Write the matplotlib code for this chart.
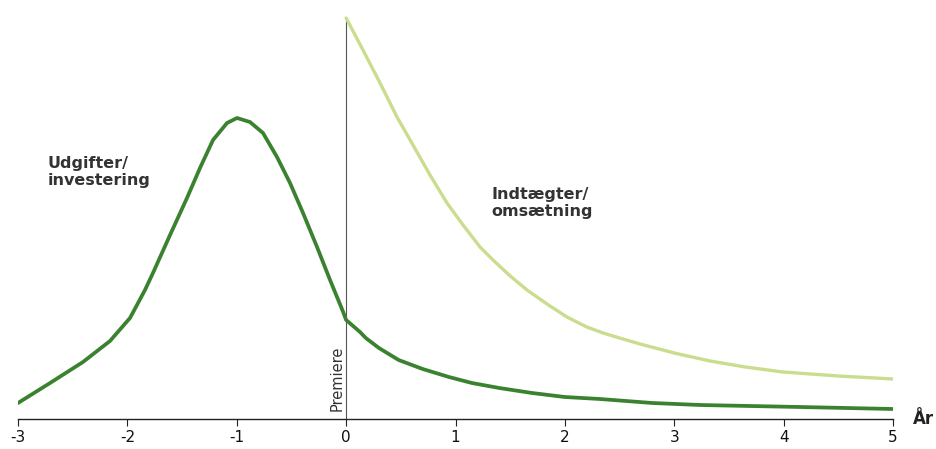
import matplotlib.pyplot as plt

# udgifter / investering (dark curve)
x_udg = [-3.0, -2.707, -2.406, -2.159, -1.976, -1.839, -1.766, -1.61, -1.455, -1.336,
         -1.217, -1.089, -0.998, -0.879, -0.76, -0.632, -0.513, -0.394, -0.266, -0.147,
         -0.027, 0.0, 0.127, 0.18, 0.3, 0.48, 0.7, 0.94, 1.15, 1.4, 1.7, 2.0, 2.32,
         2.8, 3.235, 4.15, 5.0]
y_udg = [16, 36, 57, 78, 101, 129, 146, 184, 221, 251,
         279, 296, 301, 297, 286, 262, 236, 206, 172, 139,
         107, 99, 87, 81, 71, 59, 50, 42, 36, 31, 26, 22, 20,
         16, 14, 12, 10]

# indtaegter / omsaetning (light curve)
x_ind = [0.0, 0.154, 0.31, 0.465, 0.611, 0.767, 0.922, 1.069, 1.224, 1.343, 1.5,
         1.654, 1.85, 2.019, 2.2, 2.35, 2.5, 2.687, 3.0, 3.327, 3.65, 3.994, 4.5, 5.0]
y_ind = [401, 369, 336, 302, 274, 244, 216, 194, 172, 159, 143,
         129, 114, 102, 92, 86, 81, 75, 66, 58, 52, 47, 43, 40]

ticks = [-3, -2, -1, 0, 1, 2, 3, 4, 5]

fig = plt.figure(figsize=(9.36, 4.49), dpi=100)
ax = fig.add_axes([18/936, 30/449, 875/936, 419/449])

ax.plot(x_udg, y_udg, color='#3b8230', lw=2.7, solid_capstyle='round',
        solid_joinstyle='round', zorder=3)
ax.plot(x_ind, y_ind, color='#cadd8e', lw=2.4, solid_capstyle='round',
        solid_joinstyle='round', zorder=3)
ax.plot([0, 0], [0, 401], color='#555555', lw=0.8, zorder=2)

ax.set_xlim(-3, 5)
ax.set_ylim(0, 419)
for s in ['top', 'right', 'left']:
    ax.spines[s].set_visible(False)
ax.spines['bottom'].set_color('#222222')
ax.spines['bottom'].set_linewidth(1.0)
ax.set_yticks([])
ax.set_xticks(ticks)
ax.set_xticklabels([str(t) for t in ticks])
ax.tick_params(axis='x', length=5, width=0.8, color='#222222', labelsize=11,
               labelcolor='#111111', pad=3)

ax.text(-0.085, 8, 'Premiere', rotation=90, ha='center', va='bottom',
        fontsize=10.5, color='#333333')
ax.text(-2.73, 263, 'Udgifter/\ninvestering', fontsize=11.5, fontweight='bold',
        color='#333333', va='top', ha='left', linespacing=1.2)
ax.text(1.33, 232, 'Indtægter/\nomsætning', fontsize=11.5, fontweight='bold',
        color='#333333', va='top', ha='left', linespacing=1.2)
ax.text(5.18, 0, 'År', fontsize=12, fontweight='bold', color='#222222',
        va='center', ha='left', clip_on=False)

fig.savefig('out.png', dpi=100)
